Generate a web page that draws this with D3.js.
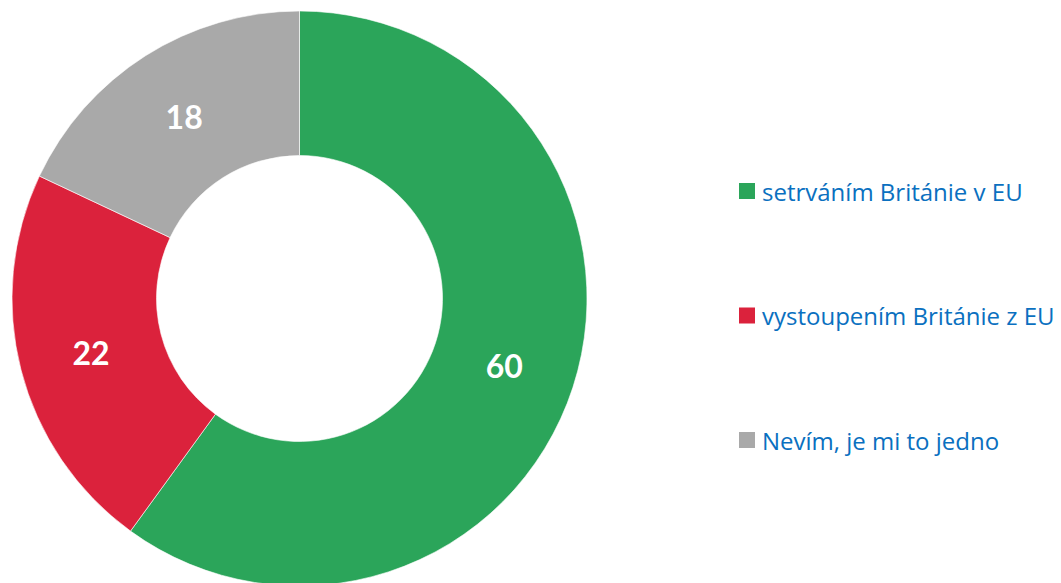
<!DOCTYPE html>
<html><head><meta charset="utf-8">
<script src="https://cdn.jsdelivr.net/npm/d3@7/dist/d3.min.js"></script>
<style>body{margin:0;background:#fff;}svg{display:block;}</style>
</head><body>
<svg id="c" width="1061" height="583"></svg>
<script>
const categories = ["setrváním Británie v EU", "vystoupením Británie z EU", "Nevím, je mi to jedno"];
const values = [60, 22, 18];
const colors = ["#2BA55A", "#DB223C", "#A9A9A9"];

const svg = d3.select("#c");
const cx = 299.5, cy = 298.5, rOuter = 287.5, rInner = 143;
const data = categories.map((c, i) => ({cat: c, value: values[i], color: colors[i]}));
const pie = d3.pie().value(d => d.value).sort(null);
const arc = d3.arc().innerRadius(rInner).outerRadius(rOuter);
const arcs = pie(data);
const g = svg.append("g").attr("transform", `translate(${cx},${cy})`);
g.selectAll("path").data(arcs).join("path")
  .attr("d", arc).attr("fill", d => d.data.color)
  .attr("stroke", "#fff").attr("stroke-width", 0.6);
g.selectAll("text").data(arcs).join("text")
  .attr("transform", d => `translate(${arc.centroid(d)})`)
  .attr("text-anchor", "middle").attr("dominant-baseline", "central")
  .attr("font-family", "Lato, 'Open Sans', sans-serif").attr("font-weight", "bold")
  .attr("font-size", 32).attr("fill", "#fff")
  .text(d => d.data.value);

const leg = svg.append("g");
const legY = d3.scalePoint().domain(categories).range([191, 440]);
const items = leg.selectAll("g").data(data).join("g")
  .attr("transform", d => `translate(739,${legY(d.cat)})`);
items.append("rect").attr("x", 0).attr("y", -8).attr("width", 16).attr("height", 16).attr("fill", d => d.color);
items.append("text").attr("x", 23).attr("y", 0).attr("dominant-baseline", "central")
  .attr("font-family", "'Open Sans', sans-serif").attr("font-size", 24)
  .attr("fill", "#0A70C0").text(d => d.cat);
</script>
</body></html>
